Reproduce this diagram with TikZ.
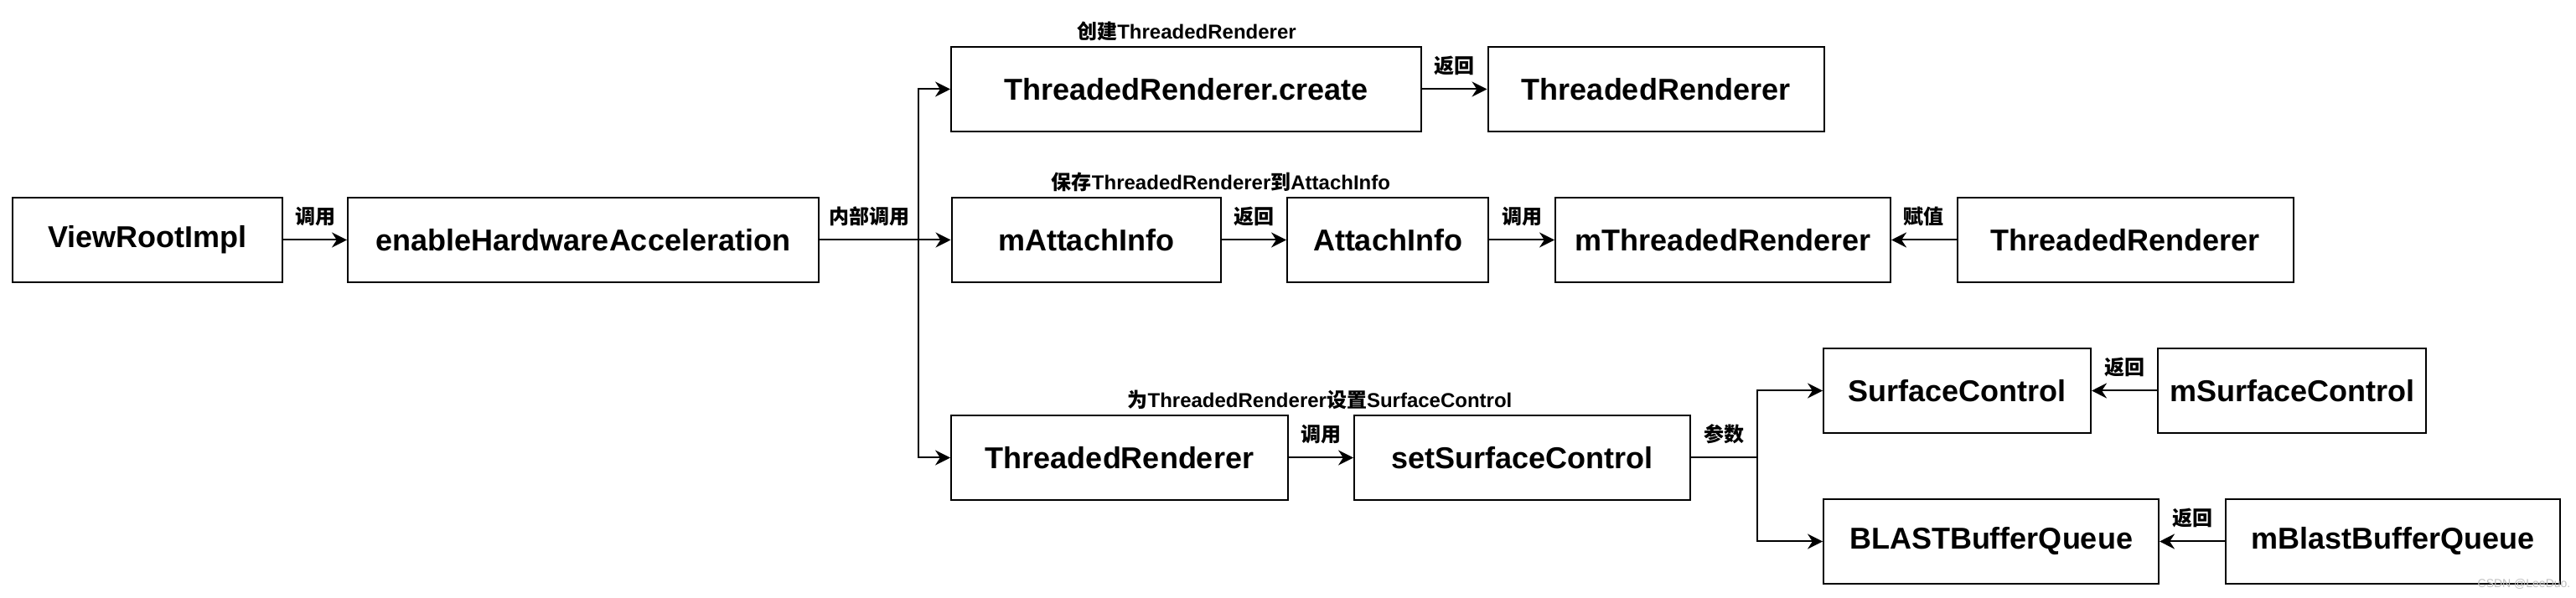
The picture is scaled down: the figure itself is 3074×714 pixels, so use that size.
\documentclass[tikz,border=0pt]{standalone}
\usepackage{fontspec}
\setmainfont{Liberation Sans}
\newfontfamily\cjk{Noto Sans CJK SC}
\usetikzlibrary{arrows.meta}
\newcommand{\zh}[1]{{\cjk #1}}

\begin{document}
\begin{tikzpicture}[x=0.25pt,y=0.25pt,yscale=-1,xscale=1,
  box/.style={draw,line width=0.5pt,inner sep=0pt,minimum height=25.25pt,font=\bfseries\fontsize{9}{10}\selectfont},
  arr/.style={line width=0.5pt,-{Stealth[length=4.5pt,width=4.5pt]}},
  lbl/.style={inner sep=0pt,font=\bfseries\fontsize{6}{7}\selectfont}]
\useasboundingbox (0,0) rectangle (3074,714);

%Box: ViewRootImpl
\node[box,minimum width=80.5pt] (vri) at (176,286.5) {ViewRootImpl};
%Box: enableHardwareAcceleration
\node[box,minimum width=140.5pt] (ehw) at (696,286.5) {enableHardwareAcceleration};
%Row 1
\node[box,minimum width=140.25pt] (trc) at (1415.5,106.5) {ThreadedRenderer.create};
\node[box,minimum width=100.25pt] (trA) at (1976,106.5) {ThreadedRenderer};
%Row 2
\node[box,minimum width=80.25pt] (mai) at (1296,286.5) {mAttachInfo};
\node[box,minimum width=60pt] (ai) at (1656,286.5) {AttachInfo};
\node[box,minimum width=100pt] (mtr) at (2056,286.5) {mThreadedRenderer};
\node[box,minimum width=100.25pt] (trB) at (2536,286.5) {ThreadedRenderer};
%Row 3
\node[box,minimum width=100.5pt] (trC) at (1336,546.5) {ThreadedRenderer};
\node[box,minimum width=100.25pt] (ssc) at (1816.5,546.5) {setSurfaceControl};
\node[box,minimum width=79.75pt] (sc) at (2335.5,466.5) {SurfaceControl};
\node[box,minimum width=80pt] (msc) at (2735,466.5) {mSurfaceControl};
\node[box,minimum width=100pt] (bbq) at (2376,646.5) {BLASTBufferQueue};
\node[box,minimum width=99.75pt] (mbbq) at (2855.5,646.5) {mBlastBufferQueue};

%Titles
\node[lbl] (tCreate) at (1416,37) {\zh{创建}ThreadedRenderer};
\node[lbl] (tSave) at (1457,217) {\zh{保存}ThreadedRenderer\zh{到}AttachInfo};
\node[lbl] (tSet) at (1575,477) {\zh{为}ThreadedRenderer\zh{设置}SurfaceControl};

%Forks
\coordinate (fork) at (1096,286.5);
\coordinate (fork2) at (2097,546.5);

%Connectors
\draw[arr] (vri) -- node[lbl,above=4pt] (eCall) {\zh{调用}} (ehw);
\draw[arr] (ehw) -- node[lbl,above=4pt] (eInner) {\zh{内部调用}} (fork) -- (mai);
\draw[arr] (fork) |- (trc);
\draw[arr] (fork) |- (trC);
\draw[arr] (trc) -- node[lbl,above=4pt] (eRet1) {\zh{返回}} (trA);
\draw[arr] (mai) -- node[lbl,above=4pt] (eRet2) {\zh{返回}} (ai);
\draw[arr] (ai) -- node[lbl,above=4pt] (eCall2) {\zh{调用}} (mtr);
\draw[arr] (trB) -- node[lbl,above=4pt] (eAssign) {\zh{赋值}} (mtr);
\draw[arr] (trC) -- node[lbl,above=4pt] (eCall3) {\zh{调用}} (ssc);
\draw[arr] (ssc) -- node[lbl,above=4pt] (eArg) {\zh{参数}} (fork2) |- (sc);
\draw[arr] (fork2) |- (bbq);
\draw[arr] (msc) -- node[lbl,above=4pt] (eRet3) {\zh{返回}} (sc);
\draw[arr] (mbbq) -- node[lbl,above=4pt] (eRet4) {\zh{返回}} (bbq);

%Watermark
\node[inner sep=0pt,font=\fontsize{3.5}{4}\selectfont,text=black!25] (wm) at (3012,697) {CSDN @LeeDuo.};

\end{tikzpicture}
\end{document}
